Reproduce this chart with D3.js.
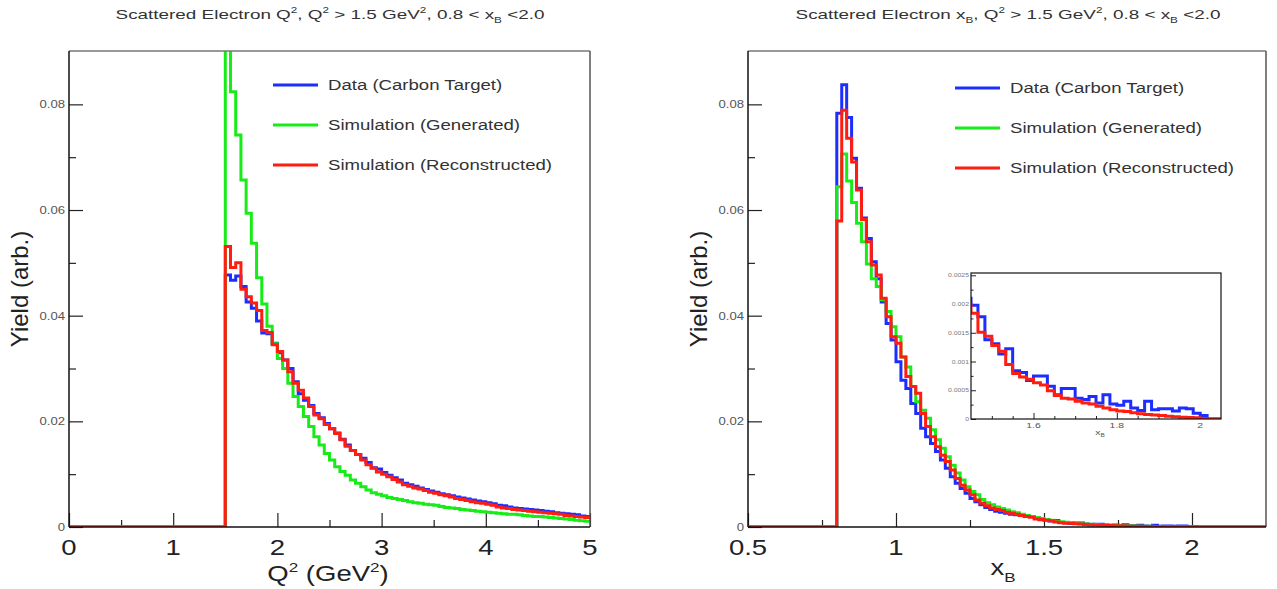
<!DOCTYPE html>
<html>
<head>
<meta charset="utf-8">
<script src="https://cdn.jsdelivr.net/npm/d3@7"></script>
<style>
  body { margin: 0; background: #fff; }
  svg text { font-family: "Liberation Sans", Arial, Helvetica, sans-serif; }
</style>
</head>
<body>
<div class="container"></div>
<script>
(function() {
  // ---- data: Q^2 histograms, 100 bins of 0.05 GeV^2 from 0 to 5
  var q2Range = [0, 5];
  var q2BinWidth = 0.05;
  var q2Data = [
    0, 0, 0, 0, 0, 0, 0, 0, 0, 0,
    0, 0, 0, 0, 0, 0, 0, 0, 0, 0,
    0, 0, 0, 0, 0, 0, 0, 0, 0, 0,
    .0477, .0467, .0475, .0455, .0426, .0414, .0390, .0367, .0366, .0348,
    .0330, .0316, .0300, .0275, .0252, .0240, .0230, .0215, .0207, .0196,
    .0186, .0178, .0166, .0155, .0145, .0137, .0130, .0122, .0112, .0110,
    .0103, .0098, .0093, .0089, .0083, .0080, .0077, .0074, .0071, .0068,
    .0066, .0063, .0061, .0059, .0057, .0055, .0053, .0051, .0049, .0048,
    .0046, .0044, .0041, .0040, .0038, .0036, .0035, .0034, .0033, .0032,
    .0031, .0030, .0029, .0027, .0026, .0025, .0024, .0023, .0021, .0020
  ];
  var q2Gen = [
    0, 0, 0, 0, 0, 0, 0, 0, 0, 0,
    0, 0, 0, 0, 0, 0, 0, 0, 0, 0,
    0, 0, 0, 0, 0, 0, 0, 0, 0, 0,
    .0970, .0824, .0742, .0657, .0594, .0537, .0472, .0422, .0380, .0347,
    .0319, .0300, .0272, .0247, .0228, .0209, .0190, .0171, .0155, .0139,
    .0127, .0114, .0105, .0098, .0089, .0083, .0076, .0070, .0065, .0062,
    .0059, .0056, .0054, .0052, .0050, .0048, .0046, .0045, .0043, .0042,
    .0041, .0039, .0037, .0036, .0035, .0033, .0032, .0031, .0030, .0029,
    .0028, .0027, .0026, .0025, .0024, .0024, .0023, .0022, .0021, .0020,
    .0020, .0019, .0018, .0017, .0016, .0015, .0014, .0013, .0012, .0011
  ];
  var q2Rec = [
    0, 0, 0, 0, 0, 0, 0, 0, 0, 0,
    0, 0, 0, 0, 0, 0, 0, 0, 0, 0,
    0, 0, 0, 0, 0, 0, 0, 0, 0, 0,
    .0531, .0491, .0500, .0450, .0436, .0424, .0410, .0372, .0368, .0345,
    .0332, .0316, .0294, .0272, .0259, .0244, .0228, .0212, .0205, .0194,
    .0186, .0177, .0165, .0153, .0145, .0137, .0127, .0118, .0111, .0104,
    .0100, .0095, .0090, .0085, .0080, .0077, .0074, .0072, .0069, .0066,
    .0064, .0061, .0059, .0057, .0054, .0052, .0050, .0048, .0046, .0045,
    .0043, .0041, .0038, .0036, .0035, .0033, .0032, .0031, .0030, .0029,
    .0028, .0027, .0026, .0025, .0024, .0022, .0021, .0020, .0019, .0018
  ];

  // ---- data: x_B histograms, 105 bins from 0.5 to 2.25
  var xbRange = [0.5, 2.25];
  var xbBinWidth = 1 / 60;
  var xbData = [
    0, 0, 0, 0, 0, 0, 0, 0, 0, 0, 0, 0, 0, 0, 0, 0, 0, 0,
    .0783, .0837, .0775, .0698, .0641, .0585, .0546, .0502, .0470, .0426,
    .0385, .0354, .0313, .0278, .0262, .0234, .0215, .0187, .0171, .0158,
    .0143, .0127, .0111, .0095, .0083, .0073, .0064, .0054, .0048, .0042,
    .0037, .0033, .0030, .0028, .0026, .0024, .0023, .0022, .0021,
    .00198, .00178, .00138, .00131, .00113, .00122, .00084, .00081, .00067, .00075,
    .00075, .00057, .00042, .00053, .00053, .00036, .00034, .00039, .00028, .00042,
    .00026, .00024, .00031, .00019, .00015, .00031, .00016, .00018, .00018, .00014,
    .00019, .00018, .00010, .00006, 0, 0,
    0, 0, 0, 0, 0, 0, 0, 0, 0, 0, 0, 0
  ];
  var xbGen = [
    0, 0, 0, 0, 0, 0, 0, 0, 0, 0, 0, 0, 0, 0, 0, 0, 0, 0,
    .0644, .0706, .0655, .0614, .0575, .0540, .0498, .0470, .0455, .0430,
    .0408, .0379, .0360, .0322, .0303, .0266, .0237, .0221, .0206, .0184,
    .0165, .0149, .0133, .0117, .0102, .0089, .0076, .0067, .0061, .0052,
    .0046, .0042, .0038, .0035, .0032, .0029, .0027, .0024, .0022,
    .0020, .0018, .0016, .0014, .0013, .0011, .0010, .0009, .0008, .0007,
    .0006, .00055, .0005, .00045, .0004, .00035, .0003, .00028, .00025, .00022,
    .0002, .00018, .00016, .00014, .00012, .0001, .00009, .00008, .00007, .00006,
    .00005, .00004, .00003, .00002, 0, 0,
    0, 0, 0, 0, 0, 0, 0, 0, 0, 0, 0, 0
  ];
  var xbRec = [
    0, 0, 0, 0, 0, 0, 0, 0, 0, 0, 0, 0, 0, 0, 0, 0, 0, 0,
    .0579, .0789, .0736, .0691, .0638, .0582, .0540, .0496, .0477, .0433,
    .0398, .0360, .0348, .0322, .0285, .0266, .0253, .0215, .0190, .0171,
    .0152, .0136, .0124, .0108, .0092, .0079, .0070, .0061, .0051, .0045,
    .0040, .0036, .0033, .0031, .0028, .0026, .0024, .0022, .0020,
    .00184, .00151, .00144, .00128, .00118, .00095, .00079, .00073, .00069, .00063,
    .00059, .00049, .00041, .00036, .00035, .00031, .00028, .00026, .00022, .00019,
    .00016, .00014, .00013, .00011, .00009, .00008, .00007, .00006, .00005, .00004,
    .00003, .000025, .00002, .00001, 0, 0,
    0, 0, 0, 0, 0, 0, 0, 0, 0, 0, 0, 0
  ];

  // ---- axes ticks and labels
  var yDomain = [0, 0.0901];
  var yMajor = [0, 0.02, 0.04, 0.06, 0.08];
  var yMinor = [0.01, 0.03, 0.05, 0.07];
  var q2Major = [0, 1, 2, 3, 4, 5];
  var q2Minor = [0.5, 1.5, 2.5, 3.5, 4.5];
  var xbMajor = [0.5, 1, 1.5, 2];
  var xbMinor = [0.75, 1.25, 1.75];
  var insetXRange = [1.45, 2.05];
  var insetYRange = [0, 0.00254];
  var insetXMajor = [1.6, 1.8, 2.0];
  var insetXMinor = [1.5, 1.55, 1.65, 1.7, 1.75, 1.85, 1.9, 1.95];
  var insetYMajor = [0, 0.0005, 0.001, 0.0015, 0.002, 0.0025];
  var insetYMinor = [0.00025, 0.00075, 0.00125, 0.00175, 0.00225];
  var legendLabels = ['Data (Carbon Target)', 'Simulation (Generated)', 'Simulation (Reconstructed)'];

  var colors = ['#1c2dff', '#18ec18', '#ff1c10'];
  var lineWidth = 3;

  var svg = d3.select('div.container').append('svg')
    .attr('width', 1277).attr('height', 589);
  var defs = svg.append('defs');

  // text with super/subscripts, stretched horizontally like the original canvas
  var richText = function(parent, parts, o) {
    var g = parent.append('g')
      .attr('transform', 'translate(' + o.x + ',' + o.y + ')' +
        (o.rotate ? ' rotate(' + o.rotate + ')' : '') +
        ' scale(' + (o.sx || 1) + ',' + (o.sy || 1) + ')');
    var t = g.append('text')
      .attr('text-anchor', o.anchor || 'start')
      .attr('font-size', o.size)
      .attr('fill', o.fill || '#000');
    var shift = 0;
    parts.forEach(function(p) {
      var target = p[1] === 'sup' ? -0.42 * o.size : (p[1] === 'sub' ? 0.3 * o.size : 0);
      t.append('tspan')
        .attr('dy', target - shift)
        .attr('font-size', p[1] ? o.size * 0.62 : o.size)
        .text(p[0]);
      shift = target;
    });
    return t;
  };

  var histPoints = function(values, start, bw) {
    var pts = values.map(function(v, i) { return [start + i * bw, v]; });
    pts.push([start + values.length * bw, values[values.length - 1]]);
    return pts;
  };

  var styleTicks = function(sel) {
    sel.select('.domain').remove();
    sel.selectAll('.tick line').attr('stroke', '#222').attr('stroke-width', 1.2);
    sel.selectAll('.tick text').remove();
  };

  var drawPanel = function(p) {
    var x = d3.scaleLinear().domain(p.xDomain).range([p.left, p.right]);
    var y = d3.scaleLinear().domain(yDomain).range([p.bottom, p.top]);
    var g = svg.append('g');

    defs.append('clipPath').attr('id', 'clip-' + p.name).append('rect')
      .attr('x', p.left).attr('y', p.top)
      .attr('width', p.right - p.left).attr('height', p.bottom - p.top);

    // ticks (ROOT style, pointing into the frame)
    g.append('g').attr('transform', 'translate(0,' + p.bottom + ')')
      .call(d3.axisBottom(x).tickValues(p.xMajor).tickSizeInner(-14).tickSizeOuter(0))
      .call(styleTicks);
    g.append('g').attr('transform', 'translate(0,' + p.bottom + ')')
      .call(d3.axisBottom(x).tickValues(p.xMinor).tickSizeInner(-7).tickSizeOuter(0))
      .call(styleTicks);
    g.append('g').attr('transform', 'translate(' + p.left + ',0)')
      .call(d3.axisLeft(y).tickValues(yMajor).tickSizeInner(-14).tickSizeOuter(0))
      .call(styleTicks);
    g.append('g').attr('transform', 'translate(' + p.left + ',0)')
      .call(d3.axisLeft(y).tickValues(yMinor).tickSizeInner(-7).tickSizeOuter(0))
      .call(styleTicks);

    // histograms
    var line = d3.line()
      .x(function(d) { return x(d[0]); })
      .y(function(d) { return y(d[1]); })
      .curve(d3.curveStepAfter);
    var hg = g.append('g').attr('clip-path', 'url(#clip-' + p.name + ')');
    p.series.forEach(function(s, i) {
      hg.append('path')
        .attr('d', line(histPoints(s, p.xDomain[0], p.binWidth)))
        .attr('fill', 'none')
        .attr('stroke', colors[i])
        .attr('stroke-width', lineWidth)
        .attr('stroke-linejoin', 'miter');
    });

    // frame
    g.append('line').attr('x1', p.left).attr('x2', p.right).attr('y1', p.top).attr('y2', p.top)
      .attr('stroke', '#777').attr('stroke-width', 1.5);
    g.append('line').attr('x1', p.right).attr('x2', p.right).attr('y1', p.top).attr('y2', p.bottom)
      .attr('stroke', '#555').attr('stroke-width', 1.5);
    g.append('line').attr('x1', p.left).attr('x2', p.left).attr('y1', p.top).attr('y2', p.bottom)
      .attr('stroke', '#111').attr('stroke-width', 1.5);
    g.append('line').attr('x1', p.left).attr('x2', p.right).attr('y1', p.bottom).attr('y2', p.bottom)
      .attr('stroke', '#111').attr('stroke-width', 1.5);

    // tick labels
    yMajor.forEach(function(v) {
      richText(g, [[v === 0 ? '0' : d3.format('.2f')(v), '']], {
        x: p.left - 4, y: y(v) + 4, size: 10.5, sx: 1.25, anchor: 'end', fill: '#555'
      });
    });
    p.xMajor.forEach(function(v) {
      richText(g, [[String(v), '']], {
        x: x(v), y: 555, size: 22, sx: 1.25, anchor: 'middle', fill: '#222'
      });
    });

    // axis titles
    richText(g, p.xTitle, { x: p.xTitleX, y: p.xTitleY, size: 22, sx: 1.25, anchor: 'middle', fill: '#222' });
    richText(g, [['Yield (arb.)', '']], {
      x: p.left - 41, y: (p.top + p.bottom) / 2, size: 24, rotate: -90, anchor: 'middle', fill: '#222'
    });

    // title
    richText(g, p.title, { x: p.titleX, y: 19, size: 13.5, sx: 1.40, anchor: 'middle', fill: '#333' });

    // legend
    legendLabels.forEach(function(lbl, i) {
      var ly = p.legendY + i * 40;
      g.append('line')
        .attr('x1', p.legendX).attr('x2', p.legendX + 45)
        .attr('y1', ly).attr('y2', ly)
        .attr('stroke', colors[i]).attr('stroke-width', lineWidth);
      richText(g, [[lbl, '']], { x: p.legendX + 55, y: ly + 5, size: 15, sx: 1.24, fill: '#333' });
    });
    return { x: x, y: y, g: g };
  };

  drawPanel({
    name: 'q2', left: 69, right: 590, top: 51, bottom: 527,
    xDomain: q2Range, binWidth: q2BinWidth, xMajor: q2Major, xMinor: q2Minor,
    series: [q2Data, q2Gen, q2Rec],
    xTitle: [['Q', ''], ['2', 'sup'], [' (GeV', ''], ['2', 'sup'], [')', '']], xTitleX: 328, xTitleY: 581,
    title: [['Scattered Electron Q', ''], ['2', 'sup'], [', Q', ''], ['2', 'sup'],
      [' > 1.5 GeV', ''], ['2', 'sup'], [', 0.8 < x', ''], ['B', 'sub'], [' <2.0', '']],
    titleX: 330, legendX: 273, legendY: 85
  });

  drawPanel({
    name: 'xb', left: 748, right: 1266, top: 51, bottom: 527,
    xDomain: xbRange, binWidth: xbBinWidth, xMajor: xbMajor, xMinor: xbMinor,
    series: [xbData, xbGen, xbRec],
    xTitle: [['x', ''], ['B', 'sub']], xTitleX: 1003, xTitleY: 575,
    title: [['Scattered Electron x', ''], ['B', 'sub'], [', Q', ''], ['2', 'sup'],
      [' > 1.5 GeV', ''], ['2', 'sup'], [', 0.8 < x', ''], ['B', 'sub'], [' <2.0', '']],
    titleX: 1008, legendX: 955, legendY: 88
  });

  // ---- inset: tail of x_B, data and reconstructed simulation
  var inset = { left: 971, right: 1221, top: 273, bottom: 419 };
  var ix = d3.scaleLinear().domain(insetXRange).range([inset.left, inset.right]);
  var iy = d3.scaleLinear().domain(insetYRange).range([inset.bottom, inset.top]);
  var ig = svg.append('g');
  ig.append('rect')
    .attr('x', inset.left).attr('y', inset.top)
    .attr('width', inset.right - inset.left).attr('height', inset.bottom - inset.top)
    .attr('fill', '#fff');
  defs.append('clipPath').attr('id', 'clip-inset').append('rect')
    .attr('x', inset.left).attr('y', inset.top - 2)
    .attr('width', inset.right - inset.left).attr('height', inset.bottom - inset.top + 2);

  ig.append('g').attr('transform', 'translate(0,' + inset.bottom + ')')
    .call(d3.axisBottom(ix).tickValues(insetXMajor).tickSizeInner(-6).tickSizeOuter(0))
    .call(styleTicks);
  ig.append('g').attr('transform', 'translate(0,' + inset.bottom + ')')
    .call(d3.axisBottom(ix).tickValues(insetXMinor).tickSizeInner(-3).tickSizeOuter(0))
    .call(styleTicks);
  ig.append('g').attr('transform', 'translate(' + inset.left + ',0)')
    .call(d3.axisLeft(iy).tickValues(insetYMajor).tickSizeInner(-5).tickSizeOuter(0))
    .call(styleTicks);
  ig.append('g').attr('transform', 'translate(' + inset.left + ',0)')
    .call(d3.axisLeft(iy).tickValues(insetYMinor).tickSizeInner(-2.5).tickSizeOuter(0))
    .call(styleTicks);
  ig.selectAll('.tick line').attr('stroke-width', 1);

  var iline = d3.line()
    .x(function(d) { return ix(d[0]); })
    .y(function(d) { return iy(d[1]); })
    .curve(d3.curveStepAfter);
  var ihg = ig.append('g').attr('clip-path', 'url(#clip-inset)');
  [[xbData, 0], [xbRec, 2]].forEach(function(s) {
    ihg.append('path')
      .attr('d', iline(histPoints(s[0], xbRange[0], xbBinWidth)))
      .attr('fill', 'none')
      .attr('stroke', colors[s[1]])
      .attr('stroke-width', lineWidth);
  });

  ig.append('rect')
    .attr('x', inset.left).attr('y', inset.top)
    .attr('width', inset.right - inset.left).attr('height', inset.bottom - inset.top)
    .attr('fill', 'none').attr('stroke', '#111').attr('stroke-width', 1.2);

  insetYMajor.forEach(function(v) {
    richText(ig, [[String(v), '']], {
      x: inset.left - 2, y: iy(v) + 2, size: 5.5, sx: 1.25, anchor: 'end', fill: '#777'
    });
  });
  insetXMajor.forEach(function(v) {
    richText(ig, [[String(v), '']], {
      x: ix(v), y: 428, size: 8, sx: 1.3, anchor: 'middle', fill: '#555'
    });
  });
  richText(ig, [['x', ''], ['B', 'sub']], { x: 1100, y: 435, size: 8, sx: 1.3, anchor: 'middle', fill: '#555' });
}).call(this);
</script>
</body>
</html>
